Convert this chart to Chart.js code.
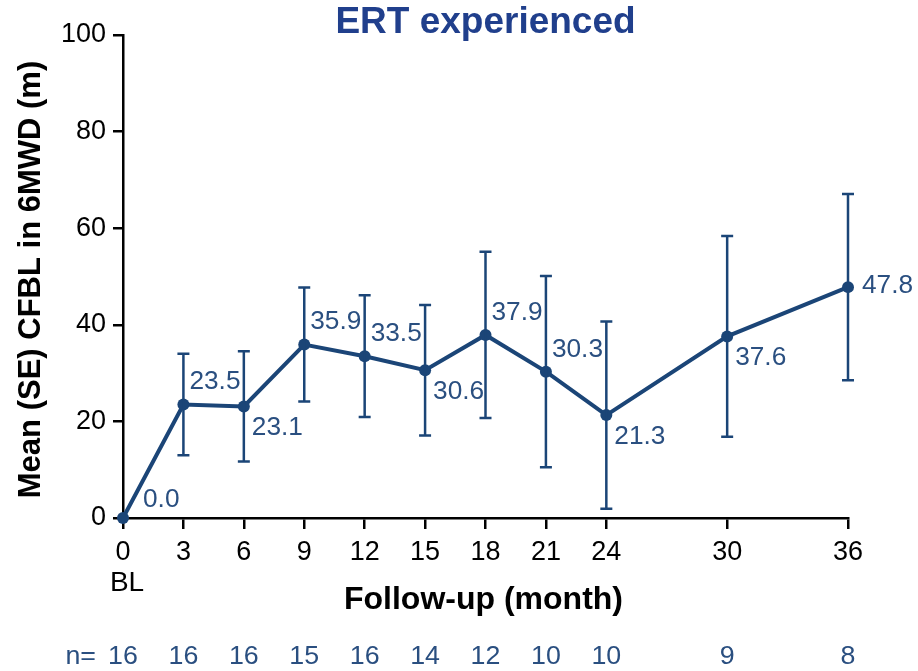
<!DOCTYPE html>
<html>
<head>
<meta charset="utf-8">
<script src="https://cdn.jsdelivr.net/npm/chart.js@4.4.1/dist/chart.umd.min.js"></script>
<style>
  html, body { margin: 0; padding: 0; background: #fff; }
  #wrap { width: 918px; height: 671px; position: relative; }
</style>
</head>
<body>
<div id="wrap"><canvas id="c" width="918" height="671"></canvas></div>
<script>
// Follow-up months (BL = 0)
const months = [0, 3, 6, 9, 12, 15, 18, 21, 24, 30, 36];
// Mean change from baseline in 6MWD (m)
const meanCFBL = [0.0, 23.5, 23.1, 35.9, 33.5, 30.6, 37.9, 30.3, 21.3, 37.6, 47.8];
// Standard error of the mean (m)
const seCFBL = [0, 10.5, 11.4, 11.8, 12.6, 13.5, 17.2, 19.8, 19.4, 20.8, 19.3];
// Patients at each visit
const nPatients = [16, 16, 16, 15, 16, 14, 12, 10, 10, 9, 8];
// Y-axis ticks
const yTicks = [0, 20, 40, 60, 80, 100];

const LINE = '#1b4577';
const LABEL = '#2a4f80';
const TITLE = '#203f8c';
const FONT = '"Liberation Sans", Arial, Helvetica, sans-serif';

// where each value label sits relative to its point
const LABEL_SIDE = ['start', 'above', 'below', 'above', 'above', 'below', 'above', 'above', 'below', 'below', 'right'];
const SIDE_OFFSET = {
  start: [20, -18], above: [6, -22], below: [8, 22], right: [14, -1]
};

function drawText(ctx, text, x, y, font, color, align, sx) {
  ctx.save();
  ctx.font = font;
  ctx.fillStyle = color;
  ctx.textAlign = align;
  ctx.textBaseline = 'middle';
  ctx.translate(x, y);
  ctx.scale(sx, 1);
  ctx.fillText(text, 0, 0);
  ctx.restore();
}

const overlay = {
  id: 'overlay',
  afterDatasetsDraw(chart) {
    const ctx = chart.ctx;
    const xs = chart.scales.x, ys = chart.scales.y;
    ctx.save();
    // error bars
    ctx.strokeStyle = LINE;
    ctx.lineWidth = 2.5;
    months.forEach((m, i) => {
      if (!seCFBL[i]) return;
      const px = xs.getPixelForValue(m);
      const top = ys.getPixelForValue(meanCFBL[i] + seCFBL[i]);
      const bot = ys.getPixelForValue(meanCFBL[i] - seCFBL[i]);
      ctx.beginPath();
      ctx.moveTo(px, top); ctx.lineTo(px, bot);
      ctx.moveTo(px - 6, top); ctx.lineTo(px + 6, top);
      ctx.moveTo(px - 6, bot); ctx.lineTo(px + 6, bot);
      ctx.stroke();
    });
    ctx.restore();
    // value labels
    months.forEach((m, i) => {
      const px = xs.getPixelForValue(m);
      const py = ys.getPixelForValue(meanCFBL[i]);
      const off = SIDE_OFFSET[LABEL_SIDE[i]];
      drawText(ctx, meanCFBL[i].toFixed(1), px + off[0], py + off[1], '25px ' + FONT, LABEL, 'left', 1.05);
    });
  },
  afterDraw(chart) {
    const ctx = chart.ctx;
    const xs = chart.scales.x, ys = chart.scales.y;
    const ca = chart.chartArea;
    // tick labels
    yTicks.forEach(v => {
      drawText(ctx, String(v), 106, ys.getPixelForValue(v), '27px ' + FONT, '#000', 'right', 1);
    });
    months.forEach(m => {
      drawText(ctx, String(m), xs.getPixelForValue(m), 553, '27px ' + FONT, '#000', 'center', 1);
    });
    drawText(ctx, 'BL', xs.getPixelForValue(0) + 4, 583, '28px ' + FONT, '#000', 'center', 1.0);
    // main title
    drawText(ctx, 'ERT experienced', (ca.left + ca.right) / 2, 23, 'bold 37px ' + FONT, TITLE, 'center', 1);
    // axis titles
    drawText(ctx, 'Follow-up (month)', (ca.left + ca.right) / 2 - 2, 600, 'bold 32px ' + FONT, '#000', 'center', 1);
    ctx.save();
    ctx.translate(31, (ca.top + ca.bottom) / 2 + 3);
    ctx.rotate(-Math.PI / 2);
    drawText(ctx, 'Mean (SE) CFBL in 6MWD (m)', 0, 0, 'bold 31px ' + FONT, '#000', 'center', 1);
    ctx.restore();
    // number at risk row
    months.forEach((m, i) => {
      drawText(ctx, String(nPatients[i]), xs.getPixelForValue(m), 657, '26px ' + FONT, LABEL, 'center', 1.03);
    });
    drawText(ctx, 'n=', 96, 657, '26px ' + FONT, LABEL, 'right', 1.03);
  }
};

new Chart(document.getElementById('c'), {
  type: 'line',
  data: {
    datasets: [{
      data: months.map((m, i) => ({ x: m, y: meanCFBL[i] })),
      borderColor: LINE,
      backgroundColor: LINE,
      borderWidth: 4,
      pointRadius: 6,
      pointBackgroundColor: LINE,
      pointBorderWidth: 0,
      tension: 0,
      clip: false
    }]
  },
  options: {
    responsive: false,
    animation: false,
    layout: { padding: { top: 35, right: 70, left: 0, bottom: 0 } },
    plugins: { legend: { display: false }, tooltip: { enabled: false }, title: { display: false } },
    scales: {
      x: {
        type: 'linear',
        min: 0, max: 36,
        afterBuildTicks(scale) { scale.ticks = months.map(v => ({ value: v })); },
        afterFit(scale) { scale.height = 153; },
        border: { display: true, color: '#000', width: 2.5 },
        grid: { display: true, drawOnChartArea: false, drawTicks: true, tickLength: 11, color: '#000', lineWidth: 2.5 },
        ticks: { color: 'rgba(0,0,0,0)', font: { family: FONT, size: 22 }, maxRotation: 0, autoSkip: false }
      },
      y: {
        min: 0, max: 100,
        afterBuildTicks(scale) { scale.ticks = yTicks.map(v => ({ value: v })); },
        afterFit(scale) { scale.width = 123; },
        border: { display: true, color: '#000', width: 2.5 },
        grid: { display: true, drawOnChartArea: false, drawTicks: true, tickLength: 10, color: '#000', lineWidth: 2.5 },
        ticks: { color: 'rgba(0,0,0,0)', font: { family: FONT, size: 22 } }
      }
    }
  },
  plugins: [overlay]
});
</script>
</body>
</html>
